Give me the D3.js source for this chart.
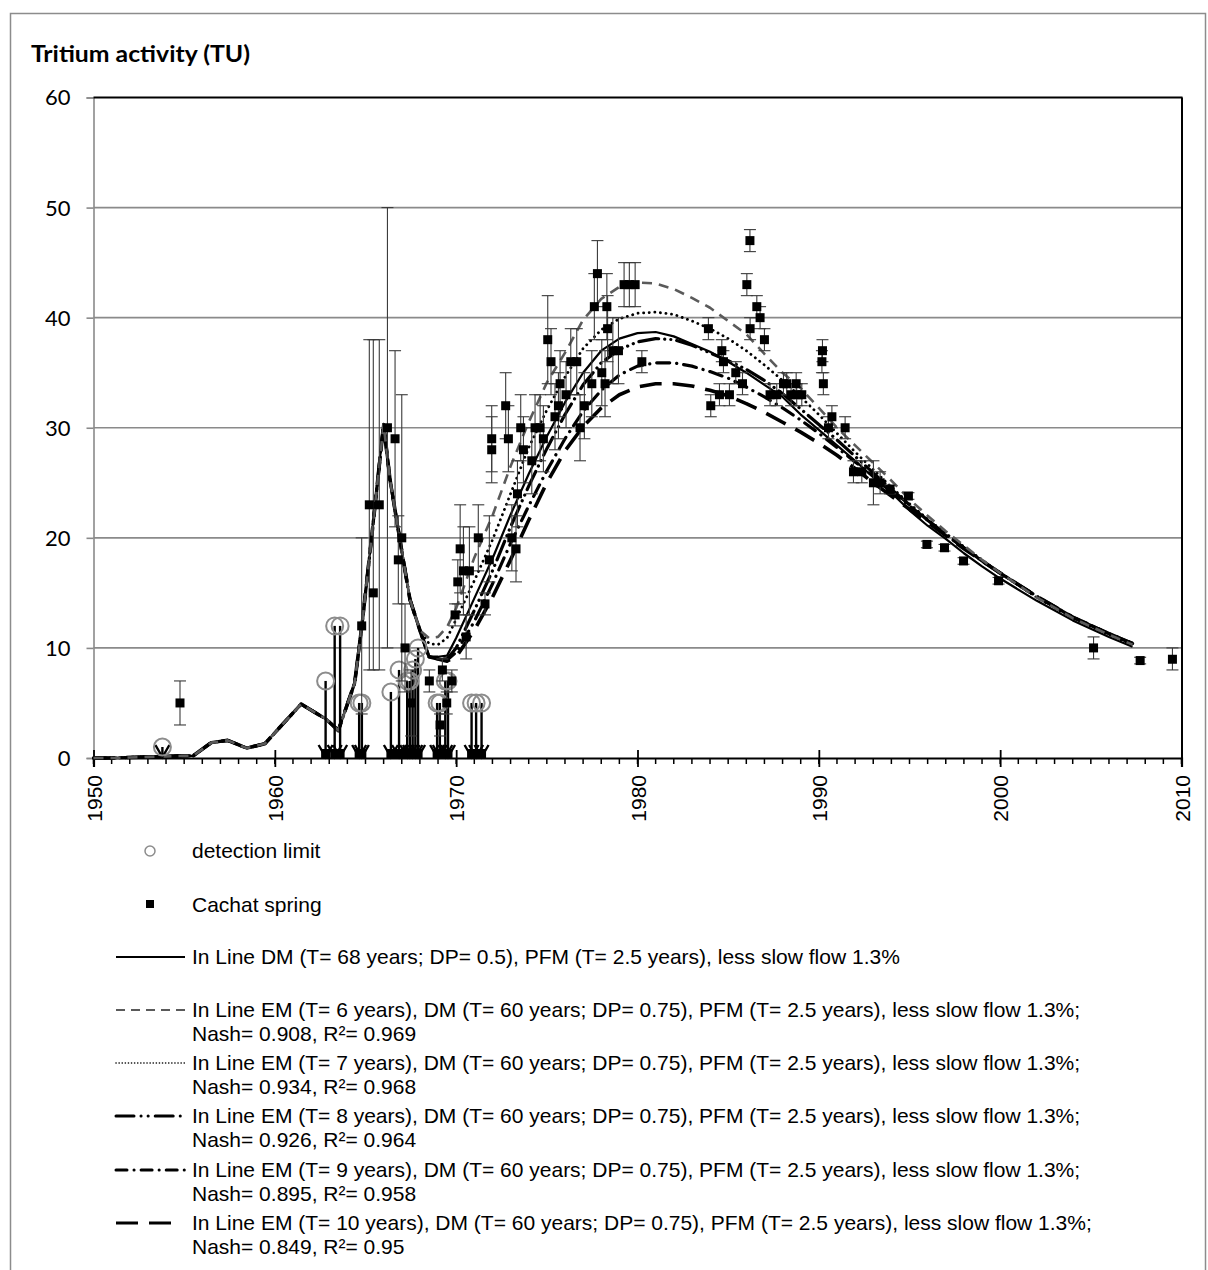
<!DOCTYPE html>
<html><head><meta charset="utf-8">
<script src="https://cdn.jsdelivr.net/npm/d3@7"></script>
<style>body{margin:0;background:#fff}svg{display:block}</style>
</head><body>
<svg id="c" width="1208" height="1270"></svg>
<script>
// ---------------- data ----------------
const yearTicks = [1950,1960,1970,1980,1990,2000,2010];
const valueTicks = [0,10,20,30,40,50,60];

const earlyYears  = [1950,1951,1952,1953,1954,1955,1955.5,1956.5,1957.4,1958.45,1959.45,1961.45,1962.85,1963.5,1964.4,1964.8,1965.4,1966.0,1966.35,1966.9,1967.45,1968.0];
const earlyValues = [0,0,0.05,0.1,0.15,0.2,0.2,1.4,1.6,0.9,1.3,4.9,3.5,2.5,6.8,12,21,30.3,25.3,19.8,14.4,11.6];
const lateYears   = [1968.5,1969,1969.5,1970,1971,1972,1973,1974,1975,1976,1977,1978,1979,1980,1981,1982,1983,1984,1985,1986,1987,1988,1989,1990,1991,1992,1993,1994,1995,1996,1997,1998,1999,2000,2002,2004,2006,2007.3];
const dmT68Late = [9.2,9.2,9.3,10.9,14.5,18.1,22.1,25.8,29.2,32.3,35.0,37.0,38.1,38.6,38.7,38.3,37.6,36.9,36.0,35.0,33.9,32.8,31.2,29.8,28.4,27.0,25.5,24.1,22.5,21.1,19.9,18.6,17.4,16.3,14.3,12.5,11.0,10.1];
const emT6Late  = [10.9,11.0,11.9,13.6,18.2,22.0,26.5,30.5,34.1,36.8,39.8,41.7,42.8,43.2,43.1,42.6,41.8,40.9,39.7,38.5,36.7,35.0,33.6,31.8,30.0,28.4,26.8,25.2,23.5,22.0,20.6,19.3,18.0,16.8,14.6,12.7,11.2,10.3];
const emT7Late  = [10.4,10.3,10.9,12.6,16.1,19.8,24.0,28.2,31.6,34.6,37.2,38.9,39.9,40.4,40.5,40.3,39.7,39.0,38.1,37.0,35.7,34.3,32.8,31.2,29.5,27.8,26.2,24.6,23.1,21.7,20.4,19.2,18.0,16.8,14.6,12.7,11.2,10.3];
const emT8Late  = [9.2,9.0,9.0,10.0,13.4,17.0,21.0,24.7,28.1,31.2,33.9,35.9,37.1,37.8,38.1,38.0,37.5,36.8,36.1,35.3,34.3,33.1,31.7,30.3,28.9,27.4,25.9,24.4,23.0,21.6,20.3,19.1,17.9,16.8,14.7,12.8,11.3,10.4];
const emT9Late  = [9.2,9.0,8.9,9.6,12.4,15.8,19.5,22.9,26.1,29.0,31.5,33.4,34.8,35.6,35.9,35.9,35.6,35.1,34.5,33.7,32.8,31.8,30.7,29.5,28.2,26.9,25.6,24.2,22.9,21.6,20.3,19.1,17.9,16.8,14.7,12.8,11.3,10.4];
const emT10Late = [9.2,9.0,8.8,9.2,11.6,14.6,18.0,21.6,25.0,27.9,30.1,31.8,33.0,33.7,34.0,34.0,33.8,33.4,32.9,32.2,31.4,30.5,29.6,28.6,27.5,26.3,25.0,23.8,22.6,21.4,20.2,19.0,17.9,16.8,14.7,12.8,11.3,10.4];

const seriesNames = [
  "In Line DM (T= 68 years; DP= 0.5), PFM (T= 2.5 years), less slow flow 1.3%",
  "In Line EM (T= 6 years), DM (T= 60 years; DP= 0.75), PFM (T= 2.5 years), less slow flow 1.3%;",
  "In Line EM (T= 7 years), DM (T= 60 years; DP= 0.75), PFM (T= 2.5 years), less slow flow 1.3%;",
  "In Line EM (T= 8 years), DM (T= 60 years; DP= 0.75), PFM (T= 2.5 years), less slow flow 1.3%;",
  "In Line EM (T= 9 years), DM (T= 60 years; DP= 0.75), PFM (T= 2.5 years), less slow flow 1.3%;",
  "In Line EM (T= 10 years), DM (T= 60 years; DP= 0.75), PFM (T= 2.5 years), less slow flow 1.3%;"
];
const seriesStats = ["", "Nash= 0.908, R²= 0.969", "Nash= 0.934, R²= 0.968", "Nash= 0.926, R²= 0.964", "Nash= 0.895, R²= 0.958", "Nash= 0.849, R²= 0.95"];

const detYears  = [1953.8,1962.8,1963.3,1963.6,1964.65,1964.8,1966.4,1966.85,1967.3,1967.45,1967.6,1967.75,1967.9,1968.95,1969.1,1969.4,1969.55,1970.85,1971.1,1971.4];
const detValues = [1,7,12,12,5,5,6,8,7,7,8,9,10,5,5,7,7,5,5,5];

const cachatYears  = [1954.77,1964.79,1965.21,1965.43,1965.76,1966.21,1966.63,1966.81,1967.0,1967.18,1967.51,1968.52,1969.11,1969.24,1969.48,1969.76,1969.94,1970.09,1970.22,1970.40,1970.55,1970.73,1971.22,1971.59,1971.83,1971.96,1971.96,1972.73,1972.88,1973.07,1973.30,1973.38,1973.56,1973.71,1974.17,1974.35,1974.63,1974.81,1975.05,1975.23,1975.45,1975.64,1975.73,1976.06,1976.32,1976.65,1976.83,1977.07,1977.48,1977.62,1977.79,1978.03,1978.21,1978.31,1978.35,1978.64,1978.95,1979.26,1979.55,1979.87,1980.24,1983.91,1984.04,1984.52,1984.65,1984.74,1985.07,1985.42,1985.79,1986.03,1986.2,1986.21,1986.58,1986.76,1987.0,1987.31,1987.68,1988.05,1988.23,1988.47,1988.75,1988.78,1989.06,1990.17,1990.2,1990.25,1990.53,1990.72,1991.45,1991.91,1992.37,1993.01,1993.38,1993.93,1994.94,1995.96,1996.93,1997.98,1999.91,2005.15,2007.72,2009.5];
const cachatValues = [5,12,23,15,23,30,29,18,20,10,5,7,3,8,5,7,13,16,19,17,11,17,20,14,18,29,28,32,29,20,19,24,30,28,27,30,30,29,38,36,31,32,34,33,36,36,30,32,34,41,44,35,34,41,39,37,37,43,43,43,36,39,32,33,37,36,33,35,34,43,47,39,41,40,38,33,33,34,34,33,34,33,33,36,37,34,30,31,30,26,26,25,25,24.4,23.8,19.4,19.1,17.9,16.1,10.0,8.85,8.97];
const cachatLow    = [3,4,8,8,8,10,21,14,7,6,2,6,2,7,4,6,12,14,15,13,9,13,17,13,16,26,25,29,26,17,16,21,27,25,24,27,27,26,34,33,28,29,31,30,33,33,27,29,31,38,41,32,31,38,36,34,34,41,41,41,35,38,31,32,36,35,32,34,33,42,46,38,40,39,37,32,32,33,33,32,33,32,32,35,36,33,29,30,29,25,25,23,24,24,23.5,19.1,18.8,17.6,15.8,9,8.55,8];
const cachatHigh   = [7,20,38,38,38,50,37,22,33,14,8,8,4,9,6,8,14,18,23,21,13,21,23,15,22,32,31,35,32,23,22,27,33,31,30,33,33,32,42,39,34,35,37,36,39,39,33,35,37,44,47,38,37,44,42,40,40,45,45,45,37,40,33,34,38,37,34,36,35,44,48,40,42,41,39,34,34,35,35,34,35,34,34,37,38,35,31,32,31,27,27,27,26,24.8,24.1,19.7,19.4,18.2,16.4,11,9.15,10];

// ---------------- drawing ----------------
const svg = d3.select("#c");
const x = d3.scaleLinear().domain([1950, 2010]).range([93.5, 1181.5]);
const y = d3.scaleLinear().domain([0, 60]).range([758, 97.5]);
const sans = "'Liberation Sans', Arial, sans-serif";

// outer frame
svg.append("rect").attr("x", 10.5).attr("y", 13.5).attr("width", 1195).attr("height", 1300)
  .attr("fill", "#fff").attr("stroke", "#8c8c8c").attr("stroke-width", 1.5);

// title
svg.append("text").attr("x", 31).attr("y", 62).text("Tritium activity (TU)")
  .attr("font-family", "Lato, 'Open Sans', sans-serif").attr("font-weight", "bold")
  .attr("font-size", 22).attr("textLength", 219).attr("lengthAdjust", "spacingAndGlyphs");

// gridlines
svg.append("g").selectAll("line").data(valueTicks.filter(v => v > 0 && v < 60)).join("line")
  .attr("x1", x(1950)).attr("x2", x(2010)).attr("y1", d => y(d)).attr("y2", d => y(d))
  .attr("stroke", "#8a8a8a").attr("stroke-width", 1.6);

// y axis
const yAxis = svg.append("g").attr("transform", `translate(${x(1950)},0)`)
  .call(d3.axisLeft(y).tickValues(valueTicks).tickSize(7).tickPadding(16).tickFormat(d3.format("d")));
yAxis.select(".domain").attr("stroke", "#8a8a8a").attr("stroke-width", 1.6);
yAxis.selectAll(".tick line").attr("stroke", "#8a8a8a").attr("stroke-width", 1.6);
yAxis.selectAll(".tick text").attr("font-family", "Lato, sans-serif").attr("font-size", 22).attr("fill", "#000").attr("dy", "0.34em");

// top and right frame lines
svg.append("line").attr("x1", x(1950)).attr("x2", x(2010) + 1).attr("y1", y(60)).attr("y2", y(60))
  .attr("stroke", "#000").attr("stroke-width", 2);
svg.append("line").attr("x1", x(2010) + 0.5).attr("x2", x(2010) + 0.5).attr("y1", y(60)).attr("y2", y(0))
  .attr("stroke", "#000").attr("stroke-width", 2);

// minor ticks each year
svg.append("g").selectAll("line").data(d3.range(1950, 2011)).join("line")
  .attr("x1", d => x(d)).attr("x2", d => x(d)).attr("y1", y(0)).attr("y2", y(0) + 6)
  .attr("stroke", "#000").attr("stroke-width", 1.5);

// x axis
const xAxis = svg.append("g").attr("transform", `translate(0,${y(0)})`)
  .call(d3.axisBottom(x).tickValues(yearTicks).tickSize(9).tickFormat(d3.format("d")));
xAxis.select(".domain").attr("stroke", "#000").attr("stroke-width", 2.2);
xAxis.selectAll(".tick line").attr("stroke", "#000").attr("stroke-width", 1.8).attr("y1", -8);
xAxis.selectAll(".tick text")
  .attr("transform", "rotate(-90)").attr("x", -17).attr("y", 0).attr("dy", "0.36em")
  .attr("text-anchor", "end").attr("font-family", sans).attr("font-size", 21).attr("fill", "#000");

// model curves
const series = [
  { name: seriesNames[0], late: dmT68Late, stroke: "#000", width: 2.2, dash: null, cap: "butt" },
  { name: seriesNames[1], late: emT6Late, stroke: "#5a5a5a", width: 2.6, dash: "10,7", cap: "butt" },
  { name: seriesNames[2], late: emT7Late, stroke: "#000", width: 2.8, dash: "0.1,5.5", cap: "round" },
  { name: seriesNames[3], late: emT8Late, stroke: "#000", width: 3.2, dash: "20,6,0.1,6,0.1,6", cap: "round" },
  { name: seriesNames[4], late: emT9Late, stroke: "#000", width: 3.2, dash: "13,7,0.1,7", cap: "round" },
  { name: seriesNames[5], late: emT10Late, stroke: "#000", width: 3.6, dash: "22,11", cap: "butt" }
];
const years = earlyYears.concat(lateYears);
const line = d3.line().x(d => x(d[0])).y(d => y(d[1])).curve(d3.curveLinear);
const drawOrder = [0, 5, 4, 3, 2, 1];
drawOrder.forEach(i => {
  const s = series[i];
  const vals = earlyValues.concat(s.late);
  const pts = years.map((yr, k) => [yr, vals[k]]);
  svg.append("path").attr("d", line(pts)).attr("fill", "none")
    .attr("stroke", s.stroke).attr("stroke-width", s.width)
    .attr("stroke-dasharray", s.dash).attr("stroke-linecap", s.cap).attr("stroke-linejoin", "round");
});

// detection limit markers
const det = detYears.map((yr, i) => ({ yr, v: detValues[i] }));
const dg = svg.append("g");
dg.selectAll("line.v").data(det).join("line").attr("class", "v")
  .attr("x1", d => x(d.yr)).attr("x2", d => x(d.yr)).attr("y1", d => y(d.v)).attr("y2", y(0) - 1)
  .attr("stroke", "#000").attr("stroke-width", 2.4);
dg.selectAll("path.a").data(det).join("path").attr("class", "a")
  .attr("d", d => `M${x(d.yr) - 7},${y(0) - 13}L${x(d.yr)},${y(0) - 1}L${x(d.yr) + 7},${y(0) - 13}`)
  .attr("fill", "none").attr("stroke", "#000").attr("stroke-width", 2.4);
dg.selectAll("rect").data(det.filter(d => d.yr > 1960)).join("rect")
  .attr("x", d => x(d.yr) - 4.5).attr("y", y(0) - 9).attr("width", 9).attr("height", 9).attr("fill", "#000");
dg.selectAll("circle").data(det).join("circle")
  .attr("cx", d => x(d.yr)).attr("cy", d => y(d.v)).attr("r", 8.5)
  .attr("fill", "none").attr("stroke", "#8c8c8c").attr("stroke-width", 2);

// Cachat spring error bars + points
const pts = cachatYears.map((yr, i) => ({ yr, v: cachatValues[i], lo: cachatLow[i], hi: cachatHigh[i] }));
const eg = svg.append("g").attr("stroke", "#3a3a3a").attr("stroke-width", 1.1);
eg.selectAll("line.s").data(pts).join("line").attr("class", "s")
  .attr("x1", d => x(d.yr)).attr("x2", d => x(d.yr)).attr("y1", d => y(d.lo)).attr("y2", d => y(d.hi));
eg.selectAll("line.t").data(pts).join("line").attr("class", "t")
  .attr("x1", d => x(d.yr) - 6).attr("x2", d => x(d.yr) + 6).attr("y1", d => y(d.hi)).attr("y2", d => y(d.hi));
eg.selectAll("line.b").data(pts).join("line").attr("class", "b")
  .attr("x1", d => x(d.yr) - 6).attr("x2", d => x(d.yr) + 6).attr("y1", d => y(d.lo)).attr("y2", d => y(d.lo));
svg.append("g").selectAll("rect").data(pts).join("rect")
  .attr("x", d => x(d.yr) - 4.5).attr("y", d => y(d.v) - 4.5).attr("width", 9).attr("height", 9).attr("fill", "#000");

// ---------------- legend ----------------
const lg = svg.append("g").attr("font-family", sans).attr("font-size", 21).attr("fill", "#000");
lg.append("circle").attr("cx", 150).attr("cy", 851).attr("r", 5).attr("fill", "none").attr("stroke", "#8c8c8c").attr("stroke-width", 1.5);
lg.append("text").attr("x", 192).attr("y", 858).text("detection limit");
lg.append("rect").attr("x", 146).attr("y", 900).attr("width", 8).attr("height", 8).attr("fill", "#000");
lg.append("text").attr("x", 192).attr("y", 912).text("Cachat spring");
const legendBase = [964, 1017, 1070, 1123, 1177, 1230];
series.forEach((s, i) => {
  const b = legendBase[i];
  lg.append("line").attr("x1", 116).attr("x2", i === 5 ? 176 : 185).attr("y1", b - 7).attr("y2", b - 7)
    .attr("stroke", s.stroke).attr("stroke-width", i === 0 ? 2 : (i === 2 ? 1.6 : (i === 1 ? 2 : 3)))
    .attr("stroke-dasharray", i === 2 ? "0.1,3" : (i === 1 ? "9,6" : (i === 3 ? "18,7,0.1,7,0.1,7" : (i === 4 ? "11,7,0.1,7" : s.dash))))
    .attr("stroke-linecap", s.cap);
  lg.append("text").attr("x", 192).attr("y", b).text(s.name);
  if (seriesStats[i]) lg.append("text").attr("x", 192).attr("y", b + 24).text(seriesStats[i]);
});
</script>
</body></html>
